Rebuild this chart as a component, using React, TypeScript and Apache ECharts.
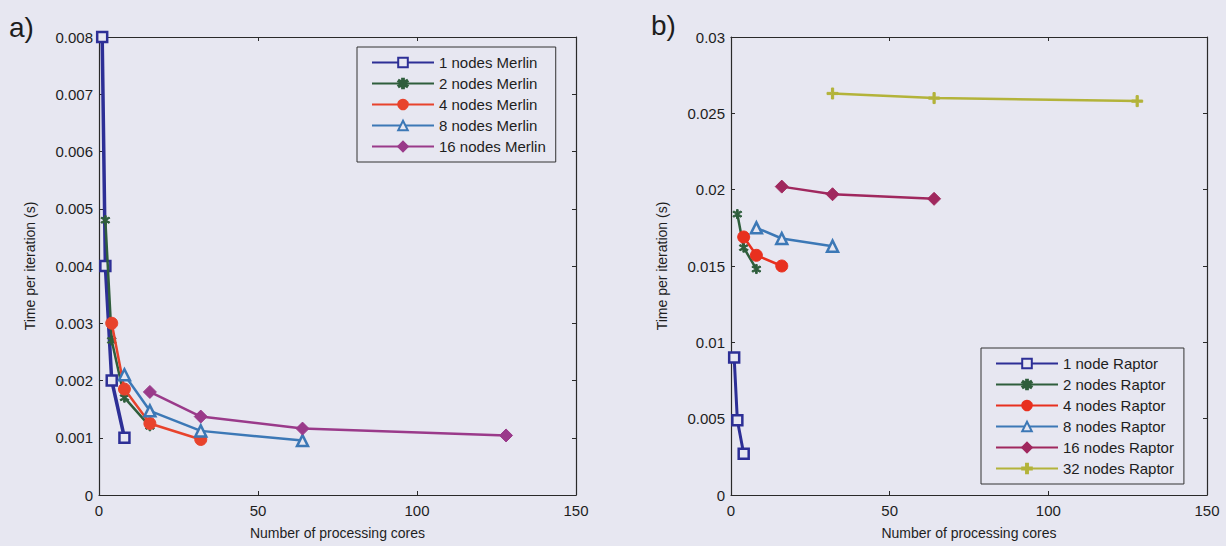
import React, { useEffect, useRef } from "react";
import * as echarts from "echarts";

const merlinNames = ["1 nodes Merlin", "2 nodes Merlin", "4 nodes Merlin", "8 nodes Merlin", "16 nodes Merlin"];
const merlin1: number[][] = [[1, 0.008], [2, 0.004], [4, 0.002], [8, 0.001]];
const merlin2: number[][] = [[2, 0.0048], [4, 0.0027], [8, 0.0017], [16, 0.0012]];
const merlin4: number[][] = [[4, 0.003], [8, 0.00185], [16, 0.00125], [32, 0.00097]];
const merlin8: number[][] = [[8, 0.0021], [16, 0.00147], [32, 0.00112], [64, 0.00095]];
const merlin16: number[][] = [[16, 0.0018], [32, 0.00137], [64, 0.00116], [128, 0.00104]];

const raptorNames = ["1 node Raptor", "2 nodes Raptor", "4 nodes Raptor", "8 nodes Raptor", "16 nodes Raptor", "32 nodes Raptor"];
const raptor1: number[][] = [[1, 0.009], [2, 0.0049], [4, 0.0027]];
const raptor2: number[][] = [[2, 0.0184], [4, 0.0162], [8, 0.0148]];
const raptor4: number[][] = [[4, 0.0169], [8, 0.0157], [16, 0.015]];
const raptor8: number[][] = [[8, 0.0175], [16, 0.0168], [32, 0.0163]];
const raptor16: number[][] = [[16, 0.0202], [32, 0.0197], [64, 0.0194]];
const raptor32: number[][] = [[32, 0.0263], [64, 0.026], [128, 0.0258]];

const BG = "#e7e7f1";
const FONT = "Liberation Sans, Arial, sans-serif";
const AX = "#2a2a2a";

const STAR = "path://M4.2 0H5.8V3.1L8.5 1.5L9.3 2.9L6.6 4.4V5.6L9.3 7.1L8.5 8.5L5.8 6.9V10H4.2V6.9L1.5 8.5L0.7 7.1L3.4 5.6V4.4L0.7 2.9L1.5 1.5L4.2 3.1Z";
const PLUS = "path://M4 0H6V4H10V6H6V10H4V6H0V4H4Z";

type Style = { color: string; symbol: string; size: number; hollow: boolean };
const styles: Style[] = [
  { color: "#2d2f96", symbol: "rect", size: 10, hollow: true },
  { color: "#2f5e3c", symbol: STAR, size: 9, hollow: false },
  { color: "#e8432c", symbol: "circle", size: 12, hollow: false },
  { color: "#3c78b6", symbol: "triangle", size: 11, hollow: true },
  { color: "#9a2f78", symbol: "diamond", size: 13, hollow: false },
  { color: "#b3b33a", symbol: PLUS, size: 11, hollow: false },
];
const merlinColors = ["#2d2f96", "#2f5e3c", "#e8432c", "#3c78b6", "#9a3a8a"];
const raptorColors = ["#2d2f96", "#2f5e3c", "#e8301f", "#3c78b6", "#a0285e", "#b3b33a"];

function mk(name: string, data: number[][], idx: number, color: string, axisIdx: number, width: number) {
  const s = styles[idx];
  return {
    name,
    type: "line",
    xAxisIndex: axisIdx,
    yAxisIndex: axisIdx,
    data,
    symbol: s.symbol,
    symbolSize: s.size,
    showSymbol: true,
    clip: false,
    lineStyle: { color, width },
    itemStyle: s.hollow
      ? { color: BG, borderColor: color, borderWidth: 2.5 }
      : { color, borderColor: color, borderWidth: 1 },
    emphasis: { disabled: true },
    z: 3 + idx,
  };
}

const fmt = (v: number) => String(Number(v.toPrecision(6)));

function xAx(grid: number, pos: "bottom" | "top", labels: boolean) {
  return {
    type: "value",
    gridIndex: grid,
    position: pos,
    min: 0,
    max: 150,
    interval: 50,
    splitLine: { show: false },
    axisLine: { show: true, onZero: false, lineStyle: { color: AX, width: 1.2 } },
    axisTick: { show: true, inside: true, length: 4, lineStyle: { color: AX } },
    axisLabel: { show: labels, color: "#1e1e1e", fontSize: 15, fontFamily: FONT, margin: 8 },
    name: labels ? "Number of processing cores" : "",
    nameLocation: "middle",
    nameGap: 31,
    nameTextStyle: { color: "#1e1e1e", fontSize: 14, fontFamily: FONT },
  };
}
function yAx(grid: number, pos: "left" | "right", labels: boolean, max: number, interval: number) {
  return {
    type: "value",
    gridIndex: grid,
    position: pos,
    min: 0,
    max,
    interval,
    splitLine: { show: false },
    axisLine: { show: true, onZero: false, lineStyle: { color: AX, width: 1.2 } },
    axisTick: { show: true, inside: true, length: 4, lineStyle: { color: AX } },
    axisLabel: { show: labels, color: "#1e1e1e", fontSize: 15, fontFamily: FONT, margin: 6, formatter: fmt },
    name: labels ? "Time per iteration (s)" : "",
    nameLocation: "middle",
    nameGap: 62,
    nameRotate: 90,
    nameTextStyle: { color: "#1e1e1e", fontSize: 14, fontFamily: FONT },
  };
}

function legend(names: string[], left: number, top: number, w: number) {
  return {
    data: names,
    orient: "vertical",
    left,
    top,
    width: w,
    itemWidth: 62,
    itemHeight: 12,
    itemGap: 6,
    padding: [8, 10, 8, 14],
    backgroundColor: BG,
    borderColor: "#333",
    borderWidth: 1,
    borderRadius: 0,
    textStyle: { color: "#1e1e1e", fontSize: 15, fontFamily: FONT },
  };
}

export default function App() {
  const ref = useRef<HTMLDivElement>(null);
  useEffect(() => {
    if (!ref.current) return;
    const chart = echarts.init(ref.current, null, { renderer: "svg" });
    const mData = [merlin1, merlin2, merlin4, merlin8, merlin16];
    const rData = [raptor1, raptor2, raptor4, raptor8, raptor16, raptor32];
    const series: any[] = [];
    mData.forEach((d, i) => series.push(mk(merlinNames[i], d, i, merlinColors[i], 0, i === 0 ? 3.5 : 2.5)));
    rData.forEach((d, i) => series.push(mk(raptorNames[i], d, i, raptorColors[i], 1, i === 0 ? 3 : 2.5)));
    chart.setOption({
      animation: false,
      backgroundColor: BG,
      title: [
        { text: "a)", left: 4, top: 8, textStyle: { fontSize: 28, fontWeight: "normal", color: "#1e1e1e", fontFamily: FONT } },
        { text: "b)", left: 646, top: 6, textStyle: { fontSize: 28, fontWeight: "normal", color: "#1e1e1e", fontFamily: FONT } },
      ],
      grid: [
        { left: 99, right: 650, top: 37, bottom: 51, show: false },
        { left: 731, right: 19, top: 37, bottom: 51, show: false },
      ],
      xAxis: [xAx(0, "bottom", true), xAx(1, "bottom", true), xAx(0, "top", false), xAx(1, "top", false)],
      yAxis: [
        yAx(0, "left", true, 0.008, 0.001),
        yAx(1, "left", true, 0.03, 0.005),
        yAx(0, "right", false, 0.008, 0.001),
        yAx(1, "right", false, 0.03, 0.005),
      ],
      legend: [legend(merlinNames, 357, 47, 215), legend(raptorNames, 981, 348, 217)],
      series,
    });
    return () => chart.dispose();
  }, []);
  return (
    <div
      ref={ref}
      style={{ position: "fixed", left: 0, top: 0, width: 1226, height: 546 }}
    />
  );
}
